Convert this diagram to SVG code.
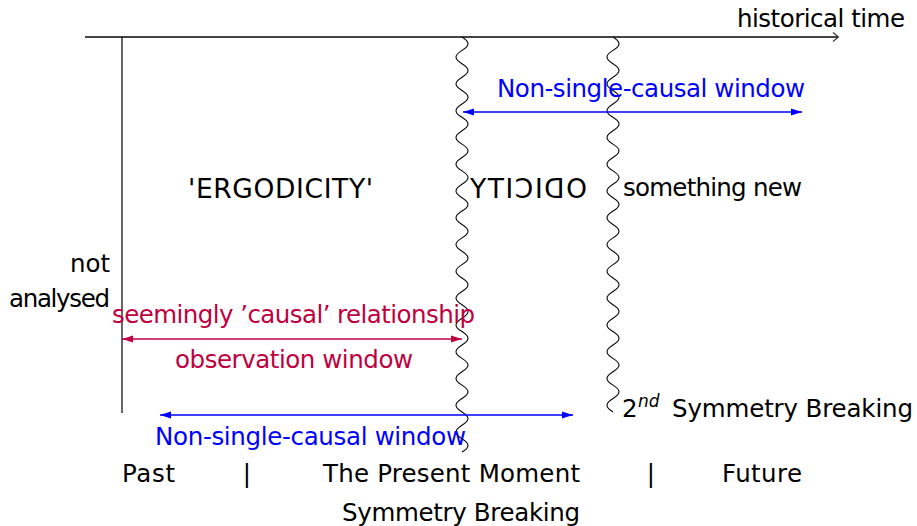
<svg xmlns="http://www.w3.org/2000/svg" width="917" height="526" viewBox="0 0 917 526">
<style>
text{font-family:"DejaVu Sans","Liberation Sans",sans-serif;font-size:24.5px;fill:#000}
.blue{fill:#0000ff}
.crim{fill:#bf0040}
.big{font-size:26.5px}
.wave{fill:none;stroke:#000;stroke-width:1.1}
.bl{stroke:#0000ff;stroke-width:1.5;fill:none}
.cr{stroke:#bf0040;stroke-width:1.5;fill:none}
</style>
<defs>
<marker id="ab" markerUnits="userSpaceOnUse" markerWidth="12" markerHeight="8" refX="11" refY="4" orient="auto-start-reverse"><path d="M0,0.5 L11,4 L0,7.5 z" fill="#0000ff"/></marker>
<marker id="ac" markerUnits="userSpaceOnUse" markerWidth="12" markerHeight="8" refX="11" refY="4" orient="auto-start-reverse"><path d="M0,0.5 L11,4 L0,7.5 z" fill="#bf0040"/></marker>
</defs>
<rect width="917" height="526" fill="#fff"/>

<g id="connectors">
<line x1="85" y1="37" x2="838" y2="37" stroke="#444" stroke-width="1.8"/>
<path d="M833,32.5 L838.5,37 L833,41.5" fill="none" stroke="#333" stroke-width="1.1"/>
<line x1="122" y1="37" x2="122" y2="413" stroke="#000" stroke-width="1.2"/>
<path id="wave1" class="wave" d="M462,37 c 8,4.88 8,8.51 0,13.39 c -8,4.88 -8,8.51 0,13.39 c 8,4.88 8,8.51 0,13.39 c -8,4.88 -8,8.51 0,13.39 c 8,4.88 8,8.51 0,13.39 c -8,4.88 -8,8.51 0,13.39 c 8,4.88 8,8.51 0,13.39 c -8,4.88 -8,8.51 0,13.39 c 8,4.88 8,8.51 0,13.39 c -8,4.88 -8,8.51 0,13.39 c 8,4.88 8,8.51 0,13.39 c -8,4.88 -8,8.51 0,13.39 c 8,4.88 8,8.51 0,13.39 c -8,4.88 -8,8.51 0,13.39 c 8,4.88 8,8.51 0,13.39 c -8,4.88 -8,8.51 0,13.39 c 8,4.88 8,8.51 0,13.39 c -8,4.88 -8,8.51 0,13.39 c 8,4.88 8,8.51 0,13.39 c -8,4.88 -8,8.51 0,13.39 c 8,4.88 8,8.51 0,13.39 c -8,4.88 -8,8.51 0,13.39 c 8,4.88 8,8.51 0,13.39 c -8,4.88 -8,8.51 0,13.39 c 8,4.88 8,8.51 0,13.39 c -8,4.88 -8,8.51 0,13.39 c 8,4.88 8,8.51 0,13.39 c -8,4.88 -8,8.51 0,13.39 c 8,4.88 8,8.51 0,13.39 c -8,4.88 -8,8.51 0,13.39 c 8,4.88 8,8.51 0,13.39"/>
<path id="wave2" class="wave" d="M613,37 c 8,4.88 8,8.51 0,13.39 c -8,4.88 -8,8.51 0,13.39 c 8,4.88 8,8.51 0,13.39 c -8,4.88 -8,8.51 0,13.39 c 8,4.88 8,8.51 0,13.39 c -8,4.88 -8,8.51 0,13.39 c 8,4.88 8,8.51 0,13.39 c -8,4.88 -8,8.51 0,13.39 c 8,4.88 8,8.51 0,13.39 c -8,4.88 -8,8.51 0,13.39 c 8,4.88 8,8.51 0,13.39 c -8,4.88 -8,8.51 0,13.39 c 8,4.88 8,8.51 0,13.39 c -8,4.88 -8,8.51 0,13.39 c 8,4.88 8,8.51 0,13.39 c -8,4.88 -8,8.51 0,13.39 c 8,4.88 8,8.51 0,13.39 c -8,4.88 -8,8.51 0,13.39 c 8,4.88 8,8.51 0,13.39 c -8,4.88 -8,8.51 0,13.39 c 8,4.88 8,8.51 0,13.39 c -8,4.88 -8,8.51 0,13.39 c 8,4.88 8,8.51 0,13.39 c -8,4.88 -8,8.51 0,13.39 c 8,4.88 8,8.51 0,13.39 c -8,4.88 -8,8.51 0,13.39 c 8,4.88 8,8.51 0,13.39 c -8,4.88 -8,8.51 0,13.39"/>
<line class="bl" x1="463" y1="112" x2="802" y2="112" marker-start="url(#ab)" marker-end="url(#ab)"/>
<line class="cr" x1="122" y1="339" x2="462" y2="339" marker-start="url(#ac)" marker-end="url(#ac)"/>
<line class="bl" x1="160" y1="415" x2="573" y2="415" marker-start="url(#ab)" marker-end="url(#ab)"/>
</g>

<g id="historical-time"><text x="737" y="27" textLength="168">historical time</text></g>
<g id="window-top"><text class="blue" x="497" y="97" textLength="308">Non-single-causal window</text></g>
<g id="ergodicity"><text class="big" x="188" y="198" textLength="185">'ERGODICITY'</text></g>
<g id="odicity-mirrored"><text class="big" transform="translate(587,198) scale(-1,1)" x="0" y="0" textLength="117">ODICITY</text></g>
<g id="something-new"><text x="623" y="196" textLength="179">something new</text></g>
<g id="not-analysed">
<text x="110" y="272" text-anchor="end">not</text>
<text x="110" y="307" text-anchor="end" textLength="101">analysed</text>
</g>
<g id="causal"><text class="crim" x="112" y="323" textLength="363">seemingly ’causal’ relationship</text></g>
<g id="observation"><text class="crim" x="175" y="368" textLength="238">observation window</text></g>
<g id="window-bottom"><text class="blue" x="155" y="445" textLength="311">Non-single-causal window</text></g>
<g id="second-sb">
<text x="622" y="417">2</text>
<text x="638" y="407" style="font-size:17px;font-style:italic">nd</text>
<text x="672" y="417" textLength="241">Symmetry Breaking</text>
</g>
<g id="timeline">
<text x="122" y="482" textLength="53">Past</text>
<text x="247" y="482" text-anchor="middle">|</text>
<text x="323" y="482" textLength="257">The Present Moment</text>
<text x="651" y="482" text-anchor="middle">|</text>
<text x="722" y="482" textLength="80">Future</text>
<text x="342" y="521" textLength="238">Symmetry Breaking</text>
</g>
</svg>
